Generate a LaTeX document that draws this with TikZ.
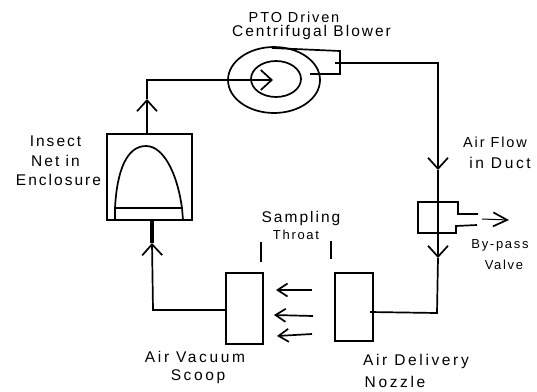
\documentclass[tikz,border=0pt]{standalone}
\usepackage{fontspec}
\setmainfont[LetterSpace=13]{Liberation Sans}
\newfontfamily\widefont[LetterSpace=17]{Liberation Sans}
\usetikzlibrary{arrows.meta,positioning,shapes.geometric}
\tikzset{
  duct/.style={line width=1.7pt},
  box/.style={draw,line width=1.7pt,rectangle,inner sep=0pt},
  fan/.style={draw,line width=1.7pt,ellipse,inner sep=0pt},
  lbl/.style={inner sep=0pt,font=\fontsize{15.5}{17}\selectfont},
  lblwide/.style={inner sep=0pt,font=\widefont\fontsize{15.5}{17}\selectfont},
  lblmid/.style={inner sep=0pt,font=\fontsize{14.5}{16}\selectfont},
  lblsmall/.style={inner sep=0pt,font=\fontsize{13}{15}\selectfont},
}
\begin{document}
\begin{tikzpicture}[
                          x=1pt,y=-1pt,
                          >={Straight Barb[length=11pt,width=20pt,line width=1.7pt]},
                          duct]
                      \useasboundingbox (0,0) rectangle (537,391);
                      \node[fan,minimum width=92pt,minimum height=66pt] (blower_out) at (274,80) {};
                      \node[fan,minimum width=50pt,minimum height=36pt] (blower_in) at (276,79) {};
                      \node[box,minimum width=85pt,minimum height=86pt] (enclosure) at (149.5,177) {};
                      \node[box,minimum width=37pt,minimum height=71pt] (scoop) at (244.5,308.5) {};
                      \node[box,minimum width=38pt,minimum height=68pt] (nozzle) at (354,307) {};
                      % blower outlet
                      \coordinate (out_a) at (272,48);
                      \coordinate (out_b) at (340,51);
                      \coordinate (out_c) at (340,74);
                      \coordinate (out_d) at (310,74);
                      \draw (out_a) -- (out_b) -- (out_c) -- (out_d);
                      % duct on the right
                      \coordinate (stub) at (335,63);
                      \coordinate (corner_top) at (438,63);
                      \coordinate (tip_a) at (438,170);
                      \coordinate (tip_b) at (438,258);
                      \coordinate (corner_bot) at (437,313);
                      \coordinate (noz_in) at (370,312);
                      \draw[->] (stub) -- (corner_top) -- (tip_a);
                      \draw[->] (tip_a) -- (tip_b);
                      \draw (tip_b) -- (corner_bot) -- (noz_in);
                      % valve
                      \coordinate (v_a) at (458,214);
                      \coordinate (v_b) at (458,202);
                      \coordinate (v_c) at (418,202);
                      \coordinate (v_d) at (418,233);
                      \coordinate (v_e) at (456,233);
                      \coordinate (v_f) at (456,226);
                      \coordinate (v_g) at (478,214);
                      \coordinate (v_h) at (477,225);
                      \coordinate (v_i) at (482,219);
                      \coordinate (v_j) at (509,220);
                      \draw (v_g) -- (v_a) -- (v_b) -- (v_c) -- (v_d) -- (v_e) -- (v_f) -- (v_h);
                      \draw[->,line width=1pt,>={Straight Barb[length=14pt,width=14pt,line width=1.7pt]}] (v_i) -- (v_j);
                      % scoop to enclosure
                      \coordinate (sc_corner) at (153,310);
                      \coordinate (tip_c) at (152,243);
                      \coordinate (enc_in) at (152,220);
                      \draw[->] (scoop.west |- sc_corner) -- (sc_corner) -- (tip_c);
                      \draw[line width=3.5pt] (tip_c) -- (enc_in);
                      % enclosure to blower
                      \coordinate (tip_d) at (147,99);
                      \coordinate (top_corner) at (147,80);
                      \coordinate (tip_e) at (273,80);
                      \draw[->] (enclosure.north -| tip_d) -- (tip_d);
                      \draw[->] (tip_d) -- (top_corner) -- (tip_e);
                      % net
                      \coordinate (net_l) at (115,220);
                      \coordinate (net_top) at (146,146);
                      \coordinate (net_r) at (183,220);
                      \coordinate (net_bl) at (115,208);
                      \coordinate (net_br) at (182,208);
                      \draw (net_l) -- (net_bl) .. controls (117,170) and (127,146) .. (net_top) .. controls (163,146) and (177,172) .. (net_br) -- (net_r);
                      \draw (net_bl) -- (net_br);
                      % throat
                      \coordinate (th_a) at (261,242);
                      \coordinate (th_b) at (261,262);
                      \coordinate (th_c) at (331,241);
                      \coordinate (th_d) at (331,259);
                      \draw (th_a) -- (th_b) (th_c) -- (th_d);
                      \coordinate (fl_a) at (312,290);
                      \coordinate (fl_b) at (276,290);
                      \coordinate (fl_c) at (313,316);
                      \coordinate (fl_d) at (274,315);
                      \coordinate (fl_e) at (312,334);
                      \coordinate (fl_f) at (277,336);
                      \path[->,>={Straight Barb[length=10pt,width=13pt,line width=1.7pt]}]
                      (fl_a) edge (fl_b)
                      (fl_c) edge (fl_d)
                      (fl_e) edge (fl_f)
                      ;
                      % labels
                      \node[lblmid] (pto) at (294,17) {PTO Driven};
                      \node[lbl] (centri) at (311.5,32) {Centrifugal Blower};
                      \node[lbl] (insect) at (55.5,141) {Insect};
                      \node[lbl] (net) [below=19.5pt of insect.center,anchor=center] {Net in};
                      \node[lbl] (encl) at (58.5,180) {Enclosure};
                      \node[lblmid] (airflow) at (495,142) {Air Flow};
                      \node[lblwide] (induct) at (500,163) {in Duct};
                      \node[lblsmall] (bypass) at (500,245) {By-pass};
                      \node[lblsmall] (valve) at (504,265) {Valve};
                      \node[lbl] (sampling) at (301,218) {Sampling};
                      \node[lblsmall] (throat) at (296,235) {Throat};
                      \node[lblwide] (vacuum) at (195,357) {Air Vacuum};
                      \node[lblwide] (scooplbl) at (198,377) {Scoop};
                      \node[lblwide] (delivery) at (416,361) {Air Delivery};
                      \node[lblwide] (nozzlelbl) at (395,382) {Nozzle};
                  \end{tikzpicture}
\end{document}
